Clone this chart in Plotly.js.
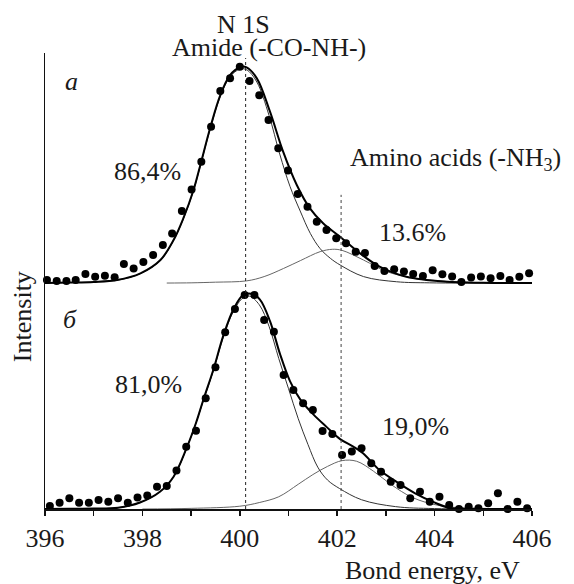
<!DOCTYPE html>
<html>
<head>
<meta charset="utf-8">
<script src="https://cdn.plot.ly/plotly-3.0.1.min.js"></script>
<style>html,body{margin:0;padding:0;background:#fff;}#chart{width:574px;height:584px;}</style>
</head>
<body>
<div id="chart"></div>
<script>
// ---- Spectrum (a): measured points ----
const energyA = [396.04,396.24,396.44,396.63,396.83,397.03,397.23,397.43,397.62,397.82,398.02,398.22,398.42,398.61,398.81,399.01,399.21,399.41,399.60,399.80,400.00,400.20,400.40,400.59,400.79,400.99,401.19,401.39,401.58,401.78,401.98,402.18,402.38,402.57,402.77,402.97,403.17,403.37,403.56,403.76,403.96,404.16,404.36,404.55,404.75,404.95,405.15,405.35,405.54,405.74,405.94];
const intensityA = [1.4,0.9,0.9,1.4,4.2,2.9,3.4,2.7,8.8,6.8,9.8,13.0,17.7,23.1,33.5,43.5,56.4,72.7,89.3,95.2,100.6,94.0,87.4,75.8,62.7,52.3,41.4,35.5,28.5,24.7,20.8,18.5,14.5,14.0,7.9,5.6,6.4,5.4,4.2,3.3,6.0,4.1,3.0,0.5,2.6,3.1,2.2,3.3,1.4,2.9,4.5];
// ---- Spectrum (a): fitted envelope and components ----
const envEnergyA = [396,396.5,397,397.48,397.96,398.37,398.64,398.84,399.05,399.19,399.39,399.6,399.8,400.0,400.14,400.35,400.62,400.89,401.17,401.44,401.71,402.06,402.47,402.87,403.42,404.24,405,406];
const envelopeA = [0,0.2,0.5,1.4,4.5,10.7,20,30.1,43.3,54.9,72,87.4,96.7,100.4,100.3,95.2,79.7,61.1,45.6,34.7,27.8,21.5,13.8,7.6,2.9,0.6,0.1,0];
const amideEnergyA = [396,396.5,397,397.48,397.96,398.37,398.64,398.84,399.05,399.19,399.39,399.6,399.8,400.0,400.14,400.35,400.6,400.82,401.03,401.24,401.45,401.65,401.86,402.06,402.54,403.22,403.9,406];
const amideA = [0,0.2,0.5,1.3,4.4,10.5,19.8,29.8,43.0,54.5,71.5,86.8,96,99.5,99.2,93.5,78,60,45,33.5,23,16,11.5,8.4,3.0,0.6,0.1,0];
const aminoEnergyA = [398.5,399.0,399.5,400.14,400.5,400.9,401.25,401.65,401.9,402.1,402.54,403.02,403.5,403.9,404.5,405.2,406];
const aminoA = [0,0.1,0.4,1.0,3.0,6.8,10.5,14.6,15.7,15.2,10.7,5.3,2.6,1.4,0.5,0.1,0];

// ---- Spectrum (б): measured points ----
const energyB = [396.1,396.3,396.5,396.7,396.9,397.1,397.3,397.5,397.7,397.9,398.1,398.3,398.5,398.7,398.9,399.1,399.3,399.5,399.7,399.9,400.1,400.3,400.5,400.7,400.9,401.1,401.3,401.5,401.7,401.9,402.1,402.3,402.5,402.7,402.9,403.1,403.3,403.5,403.7,403.9,404.1,404.3,404.5,404.7,404.9,405.1,405.3,405.5,405.7,405.9];
const intensityB = [1.4,2.9,5.0,2.9,2.9,4.2,3.4,5.0,2.9,5.4,6.3,10.4,10.7,17.9,29.0,36.4,51.5,65.9,82.2,93.0,99.5,99.5,87.9,82.5,62.3,55.3,49.2,46.0,36.3,34.9,25.1,26.7,28.2,21.3,17.3,12.7,11.2,5.0,8.0,3.4,5.7,1.9,0.0,1.1,0.3,2.7,7.3,0.0,3.4,0.3];
// ---- Spectrum (б): fitted envelope and components ----
const envEnergyB = [396,396.5,397,397.5,397.95,398.36,398.64,398.91,399.1,399.25,399.46,399.66,399.87,400.07,400.24,400.41,400.62,400.82,401.03,401.24,401.51,401.78,402.06,402.33,402.53,402.87,403.22,403.6,403.97,404.3,404.8,406];
const envelopeB = [0,0.1,0.2,0.6,3.0,8.0,15.0,28.5,40,50.7,65,80.5,92.9,99.6,100.1,97.5,87.4,72.5,59.5,51,44,38.2,32.5,29,25.9,18.1,12.6,7.3,3.3,0.6,0.1,0];
const amideEnergyB = [396,396.5,397,397.5,397.95,398.36,398.64,398.91,399.1,399.25,399.46,399.66,399.87,400.07,400.2,400.4,400.6,400.8,401.0,401.2,401.4,401.6,401.8,402.05,402.5,403.2,404.0,406];
const amideB = [0,0.1,0.2,0.6,3.0,8.0,15,28.3,40,50.3,64.5,79.8,92,98.3,99,95,85,70,56,42,30,19.5,13.5,9.5,4.3,1.1,0.2,0];
const aminoEnergyB = [398,399,400,400.4,400.8,401.2,401.5,401.8,402.1,402.4,402.75,403.1,403.55,404.1,404.9,406];
const aminoB = [0,0.3,1.3,3,5.7,11.5,16,19.8,22.5,22.2,17.5,11.5,5.3,1.6,0.2,0];

// ---- Axis ticks ----
const tickValues = [396,398,400,402,404,406];
const tickLabels = ['396','398','400','402','404','406'];

const FONT = 'Liberation Serif';
const INK = '#1a1a1a';

function line(x, y, yaxis, width, color) {
  return {x: x, y: y, yaxis: yaxis, type: 'scatter', mode: 'lines',
    line: {color: color, width: width, shape: 'spline', smoothing: 1}, hoverinfo: 'skip'};
}
function dots(x, y, yaxis) {
  return {x: x, y: y, yaxis: yaxis, type: 'scatter', mode: 'markers', cliponaxis: false,
    marker: {color: '#000', size: 8, symbol: 'circle'}, hoverinfo: 'skip'};
}

const traces = [
  line(aminoEnergyA, aminoA, 'y2', 1, '#666'),
  line(amideEnergyA, amideA, 'y2', 1, '#333'),
  line(envEnergyA, envelopeA, 'y2', 2, '#000'),
  dots(energyA, intensityA, 'y2'),
  line(aminoEnergyB, aminoB, 'y', 1, '#666'),
  line(amideEnergyB, amideB, 'y', 1, '#333'),
  line(envEnergyB, envelopeB, 'y', 2, '#000'),
  dots(energyB, intensityB, 'y')
];

function ann(text, x, y, opts) {
  return Object.assign({text: text, x: x, y: y, xref: 'x', yref: 'paper', showarrow: false,
    xanchor: 'center', yanchor: 'middle', font: {family: FONT, size: 26, color: INK}}, opts || {});
}

const layout = {
  width: 574, height: 584,
  margin: {l: 45, r: 42, t: 53, b: 75},
  paper_bgcolor: '#fff', plot_bgcolor: 'rgba(0,0,0,0)',
  font: {family: FONT, size: 26, color: INK},
  showlegend: false,
  xaxis: {range: [396, 406], showline: true, linewidth: 2, linecolor: '#111', mirror: false,
    ticks: 'outside', ticklen: 5, tickwidth: 1.5, tickcolor: '#111',
    tickvals: tickValues, ticktext: tickLabels, ticklabelstandoff: 0,
    minor: {dtick: 1, tick0: 396, ticks: 'outside', ticklen: 5, tickwidth: 1.5, tickcolor: '#111', showgrid: false},
    tickfont: {family: FONT, size: 26, color: INK}, showgrid: false, zeroline: false},
  yaxis: {range: [0, 212.1], showline: true, linewidth: 1.5, linecolor: '#111',
    showticklabels: false, ticks: '', showgrid: false, zeroline: false},
  yaxis2: {overlaying: 'y', range: [-105.1, 107.0], visible: false, showgrid: false, zeroline: false},
  shapes: [
    {type: 'line', xref: 'x', yref: 'paper', x0: 400.12, x1: 400.12, y0: 0, y1: 0.989,
      line: {color: '#222', width: 1, dash: 'dot'}},
    {type: 'line', xref: 'x', yref: 'paper', x0: 402.08, x1: 402.08, y0: 0, y1: 0.689,
      line: {color: '#444', width: 1, dash: 'dot'}}
  ],
  annotations: [
    ann('N 1S', 400.07, 1.063),
    ann('Amide (-CO-NH-)', 400.6, 1.012),
    ann('<i>a</i>', 396.54, 0.937),
    ann('86,4%', 398.1, 0.741),
    ann('Amino acids (-NH<sub>3</sub>)', 404.43, 0.768),
    ann('13.6%', 403.54, 0.607),
    ann('<i>б</i>', 396.52, 0.416),
    ann('81,0%', 398.12, 0.272),
    ann('19,0%', 403.61, 0.180),
    ann('Intensity', -0.047, 0.421, {xref: 'paper', textangle: -90}),
    ann('Bond energy, eV', 403.95, -0.135)
  ]
};

Plotly.newPlot('chart', traces, layout, {staticPlot: true, displayModeBar: false});
</script>
</body>
</html>
